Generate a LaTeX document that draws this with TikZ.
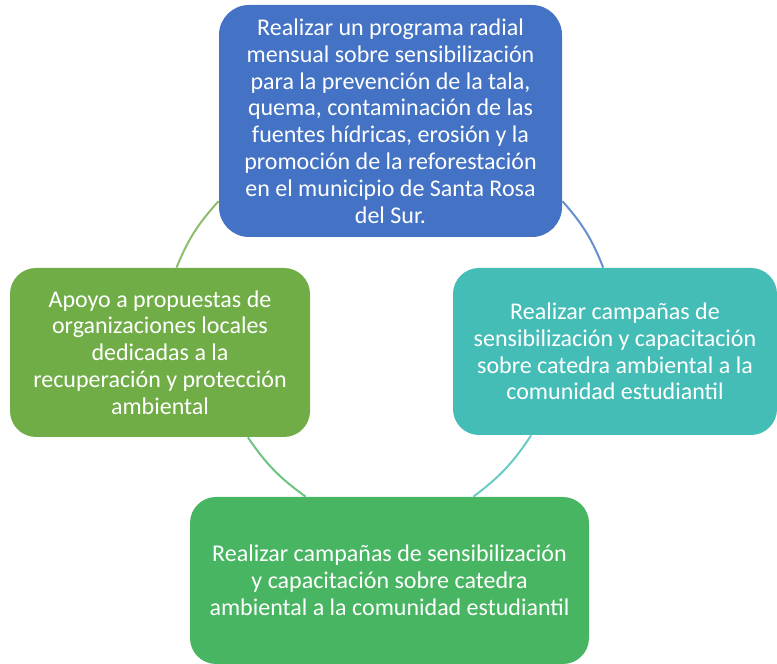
\documentclass[tikz,border=0pt]{standalone}
\usepackage{fontspec}
\setmainfont{Carlito}
\definecolor{azul}{HTML}{4472C4}
\definecolor{turquesa}{HTML}{45BDB7}
\definecolor{verde}{HTML}{48B562}
\definecolor{oliva}{HTML}{70AD47}
\begin{document}
\begin{tikzpicture}[x=0.5pt,y=0.5pt,
  caja/.style={rectangle, rounded corners=13pt, inner sep=0pt, align=center, text=white,
    font=\fontsize{12pt}{13.4pt}\selectfont},
  arco/.style={line width=1pt, bend left=10}]
\useasboundingbox (0,0) rectangle (777,664);
\node [caja, fill=azul, rounded corners=15pt, minimum width=171.5pt, minimum height=116pt] (radial) at (390.5,543)
  {Realizar un programa radial\\mensual sobre sensibilización\\para la prevención de la tala,\\quema, contaminación de las\\fuentes hídricas, erosión y la\\promoción de la reforestación\\en el municipio de Santa Rosa\\del Sur.};
\node [caja, fill=turquesa, minimum width=162pt, minimum height=83.5pt] (catedra) at (615,312.5)
  {Realizar campañas de\\sensibilización y capacitación\\sobre catedra ambiental a la\\comunidad estudiantil};
\node [caja, fill=verde, minimum width=199.5pt, minimum height=83.5pt] (campanas) at (389.5,83.5)
  {Realizar campañas de sensibilización\\y capacitación sobre catedra\\ambiental a la comunidad estudiantil};
\node [caja, fill=oliva, minimum width=150pt, minimum height=84.5pt] (apoyo) at (160,311.5)
  {Apoyo a propuestas de\\organizaciones locales\\dedicadas a la\\recuperación y protección\\ambiental};
% arcos del ciclo
\draw [arco, azul!80!white] (radial.335) to (catedra.98);
\draw [arco, turquesa!80!white] (catedra.225) to (campanas.45);
\draw [arco, verde!80!white] (campanas.135) to (apoyo.316);
\draw [arco, oliva!80!white] (apoyo.79) to (radial.205);
\end{tikzpicture}
\end{document}
